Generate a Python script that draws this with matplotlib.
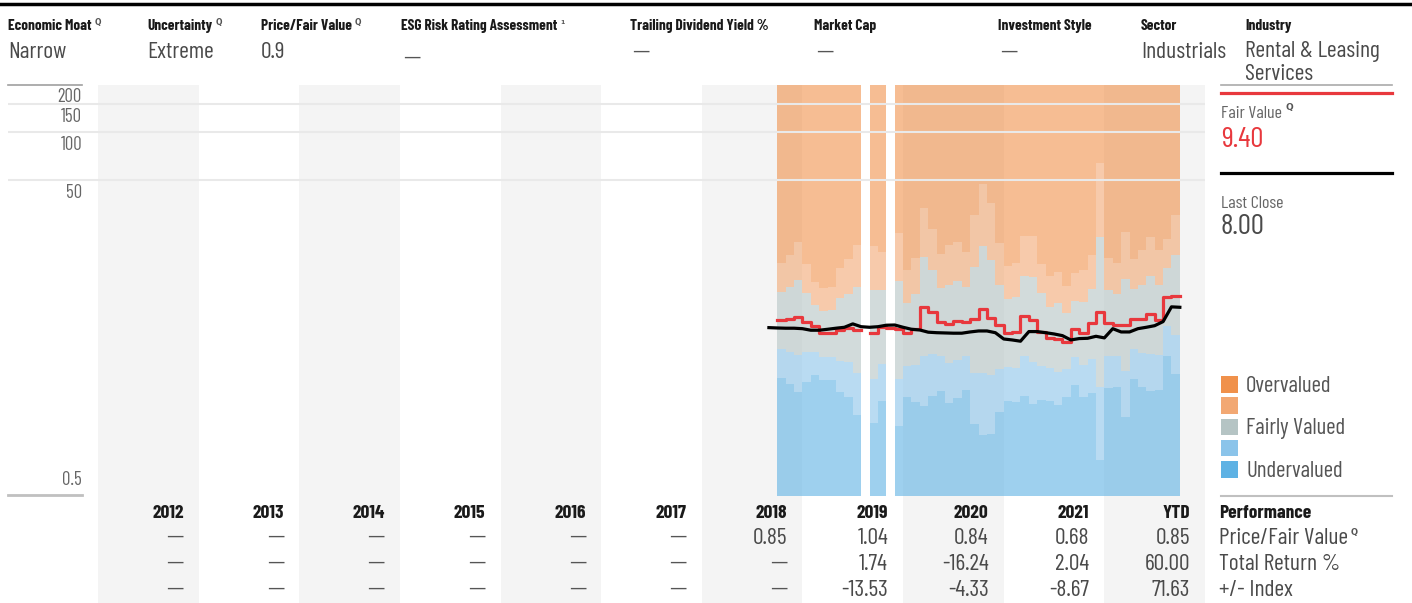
import numpy as np
import matplotlib.pyplot as plt
import matplotlib.transforms as mtransforms
from matplotlib.patches import Rectangle
from matplotlib.lines import Line2D

plt.rcParams['font.family'] = ['Barlow Condensed', 'Archivo Narrow', 'DejaVu Sans']

W, H = 1412, 603
nan = np.nan

# ---- header data ----
header_labels = ['Economic Moat', 'Uncertainty', 'Price/Fair Value', 'ESG Risk Rating Assessment',
                 'Trailing Dividend Yield %', 'Market Cap', 'Investment Style', 'Sector', 'Industry']
header_values = ['Narrow', 'Extreme', '0.9', '—', '—', '—', '—', 'Industrials', 'Rental & Leasing\nServices']
header_marks = ['Q', 'Q', 'Q', '1', '', '', '', '', '']

# ---- chart data (monthly, Oct 2018 onwards) ----
start = 2018.75
undervalued_top = [2.89, 2.65, 2.37, 2.73, 3.01, 2.81, 2.81, 2.37, 2.20, 1.70, nan, 1.51, 2.09, nan,
                   1.44, 2.19, 2.06, 1.93, 2.23, 2.41, 2.03, 2.16, 2.43, 1.49,
                   1.27, 1.30, 1.78, 2.09, 2.05, 2.23, 1.99, 2.11, 2.09, 1.96,
                   2.21, 2.62, 2.21, 2.32, 0.89, 2.50, 2.53, 1.64, 2.84, 2.53,
                   2.41, 2.43, 3.97, 3.06]
light_blue_top = [4.37, 4.21, 4.03, 4.23, 4.23, 3.93, 3.91, 3.71, 3.64, 3.12, nan, 2.84, 3.52, nan,
                  2.84, 3.44, 3.49, 3.97, 4.09, 3.97, 3.58, 3.75, 3.97, 3.12,
                  3.12, 3.00, 3.28, 3.41, 3.33, 3.97, 3.66, 3.45, 3.33, 3.17,
                  3.28, 3.93, 3.49, 3.79, 2.55, 3.97, 3.97, 3.22, 4.38, 4.13,
                  4.09, 4.03, 6.12, 5.37]
fairly_top = [10.0, 10.7, 11.9, 9.79, 8.27, 7.59, 7.70, 9.15, 9.69, 10.7, nan, 10.3, 10.3, nan,
              11.6, 8.55, 9.69, 16.4, 13.7, 10.6, 11.0, 11.6, 10.7, 14.2,
              19.3, 15.8, 11.0, 8.98, 9.32, 12.6, 12.3, 9.88, 8.07, 8.48,
              7.34, 8.76, 8.68, 10.4, 21.9, 10.3, 9.69, 12.0, 10.4, 11.0,
              12.6, 11.0, 14.0, 16.9]
light_orange_top = [15.1, 16.9, 20.5, 14.9, 11.5, 10.6, 10.7, 14.1, 16.0, 19.6, nan, 19.3, 17.8, nan,
                    23.2, 13.7, 16.2, 33.3, 24.6, 17.2, 19.6, 20.4, 17.6, 30.1,
                    47.2, 36.1, 20.2, 14.4, 15.1, 22.3, 22.3, 14.9, 12.6, 13.3,
                    10.9, 13.1, 13.7, 16.9, 63.6, 16.2, 15.1, 23.8, 16.0, 18.3,
                    21.9, 18.3, 21.3, 30.2]
fair_value = [6.67, 6.76, 6.96, 6.45, 6.12, 5.51, 5.51, 5.77, 5.92, 5.77, nan, 5.51, 6.00, 5.92,
              5.83, 5.51, 5.83, 8.07, 7.45, 6.51, 6.30, 6.57, 6.51, 6.74,
              7.78, 6.83, 6.20, 5.55, 5.64, 7.09, 6.67, 5.64, 5.12, 5.05,
              4.88, 5.83, 5.51, 6.36, 7.51, 6.41, 6.20, 6.20, 6.74, 6.74,
              7.24, 6.67, 9.25, 9.40]
# price starts one month before the valuation bands
price = [5.97, 5.94, 5.92, 5.92, 5.88, 5.75, 5.75, 5.83, 5.92, 6.00, 6.30, 6.05, 6.00, 6.05,
         6.18, 6.20, 6.00, 5.83, 5.77, 5.59, 5.55, 5.53, 5.51, 5.51, 5.61, 5.69, 5.69, 5.55,
         5.07, 5.00, 4.91, 5.64, 5.64, 5.55, 5.45, 5.32, 5.00, 5.10, 5.12, 5.27, 5.15, 5.88,
         5.61, 5.61, 5.88, 6.00, 6.14, 6.51, 8.05, 8.00]

y_ticks = [200, 150, 100, 50, 0.5]

# ---- table data ----
years = ['2012', '2013', '2014', '2015', '2016', '2017', '2018', '2019', '2020', '2021', 'YTD']
pfv_row = ['—'] * 6 + ['0.85', '1.04', '0.84', '0.68', '0.85']
total_return_row = ['—'] * 7 + ['1.74', '-16.24', '2.04', '60.00']
index_row = ['—'] * 7 + ['-13.53', '-4.33', '-8.67', '71.63']
row_names = ['Price/Fair Value', 'Total Return %', '+/- Index']

legend_labels = ['Overvalued', '', 'Fairly Valued', '', 'Undervalued']
legend_colors = ['#F0914B', '#F2A873', '#B5C4C4', '#8BC4EA', '#5EB2E4']

RED = '#E8383D'
DARK = '#4a4a4a'
DASH = dict(family='DejaVu Sans', fontsize=12.5)
YOFF = 2  # text baseline nudge in pixels


def px(x, y):
    return x / W, 1 - y / H


fig = plt.figure(figsize=(W / 100, H / 100), dpi=100)
renderer = fig.canvas.get_renderer()


def ftext(x, y, s, **kw):
    kw.setdefault('va', 'center')
    return fig.text(*px(x, y + YOFF), s, **kw)


def add_mark(t, mark, dy=-7, size=6.5):
    # small superscript after a text item
    if not mark:
        return
    bb = t.get_window_extent(renderer)
    fig.text((bb.x1 + 3) / W, (bb.y1 + dy) / H, mark, fontsize=size, fontweight='bold',
             color='#555', va='center', ha='left', family='DejaVu Sans')


# top rule
fig.add_artist(Line2D([0, 1], [1 - 4 / H] * 2, color='black', lw=2.5))

# ---- header ----
header_x = [8, 147, 261, 401, 630, 814, 998, 1141, 1245]
for x, lab, val, mk in zip(header_x, header_labels, header_values, header_marks):
    t = ftext(x, 24, lab, fontsize=11, fontweight='bold', color='#1a1a1a')
    add_mark(t, mk, dy=-3, size=5.5 if mk == 'Q' else 4.5)
    for k, line in enumerate(val.split('\n')):
        yy = 50 + 22 * k
        if line == '—':
            ftext(x + 2, 55 if lab.startswith('ESG') else 49, line, color='#555', **DASH)
        else:
            ftext(x, yy, line, fontsize=17, color=DARK)

# ---- main chart ----
ax = fig.add_axes([8 / W, 1 - 495 / H, (1205 - 8) / W, 410 / H])
ax.set_yscale('log')
ax.set_xlim(2011.1057, 2023.0)
ax.set_ylim(0.537, 196)
ax.set_axis_off()

band_ext = -(H - 495) / 410.0 - 0.01
for k in range(len(years)):
    if k % 2 == 0:
        ax.axvspan(2012 + k, 2013 + k, ymin=band_ext, ymax=1, color='#F4F4F4', lw=0,
                   zorder=0, clip_on=False)

n = len(fair_value)
edges = start + np.arange(n + 1) / 12.0
b1 = np.array(undervalued_top)
b2 = np.array(light_blue_top)
b3 = np.array(fairly_top)
b4 = np.array(light_orange_top)
floor = np.where(np.isnan(b1), nan, 0.1)
ceil = np.where(np.isnan(b4), nan, 1000.0)
layers = [(floor, b1), (b1, b2), (b2, b3), (b3, b4), (b4, ceil)]
layer_colors = legend_colors[::-1]


def fill_band(lo, hi, color):
    valid = ~np.isnan(lo) & ~np.isnan(hi)
    i = 0
    while i < n:
        if not valid[i]:
            i += 1
            continue
        j = i
        while j < n and valid[j]:
            j += 1
        ax.fill_between(edges[i:j + 1], np.append(lo[i:j], lo[j - 1]), np.append(hi[i:j], hi[j - 1]),
                        step='post', color=color, alpha=0.6, lw=0, antialiased=False, zorder=1)
        i = j


for (lo, hi), c in zip(layers, layer_colors):
    fill_band(lo, hi, c)

for v in [150, 100, 50]:
    ax.axhline(v, color='#E9E9E9', lw=1.5, zorder=2)
ax.axhline(196, xmin=0, xmax=74 / 1197, color='#A0A0A0', lw=1.2, zorder=3, clip_on=False)
ax.axhline(0.537, xmin=0, xmax=74 / 1197, color='#C0C0C0', lw=2, zorder=3, clip_on=False)

lab_tr = mtransforms.blended_transform_factory(ax.transAxes, ax.transData)
for v in y_ticks:
    dy = -13 if v >= 1 else 20
    tr = lab_tr + mtransforms.ScaledTranslation(0, dy / 100, fig.dpi_scale_trans)
    ax.text(74 / 1197, v, ('%g' % v), transform=tr, ha='right', va='center', fontsize=13.5,
            color='#666', clip_on=False)

ax.step(edges, np.append(fair_value, fair_value[-1]), where='post', color=RED, lw=2.3, zorder=4)
price_x = start + (np.arange(len(price)) - 1) / 12.0
ax.plot(price_x, price, color='black', lw=2.3, zorder=5, solid_joinstyle='round')

# ---- table ----
tab_tr = mtransforms.blended_transform_factory(ax.transData, fig.transFigure)
rows = [pfv_row, total_return_row, index_row]
for k, yr in enumerate(years):
    xr = 2012 + k + 0.85
    ax.text(xr, 1 - (511 + YOFF) / H, yr, transform=tab_tr, ha='right', va='center', fontsize=14,
            fontweight='bold', color='#1a1a1a', clip_on=False)
    for r, row in enumerate(rows):
        if row[k] == '—':
            kw = dict(DASH, color='#555')
            yy = 536 + 26 * r
        else:
            kw = dict(fontsize=17, color=DARK)
            yy = 537 + YOFF + 26 * r
        ax.text(xr, 1 - yy / H, row[k], transform=tab_tr, ha='right', va='center',
                clip_on=False, **kw)

ftext(1219, 511, 'Performance', fontsize=14, fontweight='bold', color='#1a1a1a')
for r, name in enumerate(row_names):
    t = ftext(1219, 537 + 26 * r, name, fontsize=17, color=DARK)
    if r == 0:
        add_mark(t, 'Q', dy=-4, size=6)

# ---- right panel ----
fig.add_artist(Line2D([1221 / W, 1392 / W], [1 - 85 / H] * 2, color='#AAAAAA', lw=1.2))
fig.add_artist(Line2D([1221 / W, 1392 / W], [1 - 93.3 / H] * 2, color=RED, lw=2.3))
t = ftext(1221, 111, 'Fair Value', fontsize=13, color='#666')
add_mark(t, 'Q', dy=-2, size=6.5)
ftext(1221, 138, '9.40', fontsize=21, color=RED)
fig.add_artist(Line2D([1221 / W, 1392 / W], [1 - 173 / H] * 2, color='black', lw=2.3))
ftext(1221, 202, 'Last Close', fontsize=13, color='#666')
ftext(1221, 225, '8.00', fontsize=21, color=DARK)

for k, (lab, c) in enumerate(zip(legend_labels, legend_colors)):
    yc = 384.5 + 21.2 * k
    fig.add_artist(Rectangle(px(1221, yc + 8.3), 16.7 / W, 16.7 / H, transform=fig.transFigure,
                             color=c, lw=0))
    if lab:
        ftext(1246, yc, lab, fontsize=16.5, color='#555')
fig.add_artist(Line2D([1221 / W, 1392 / W], [1 - 496 / H] * 2, color='#C0C0C0', lw=1.5))

fig.savefig('out.png', dpi=100)
